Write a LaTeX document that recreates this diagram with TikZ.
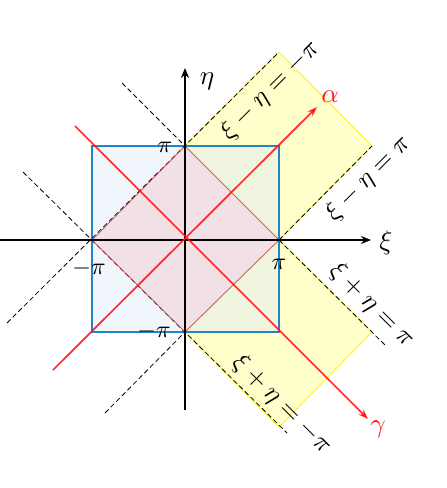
\documentclass[tikz,border=0pt]{standalone}
\usepackage{graphicx}
\usetikzlibrary{arrows.meta}
\definecolor{myblue}{RGB}{0,112,192}
\definecolor{sqfill}{RGB}{222,235,247}
\definecolor{pinkfill}{RGB}{242,223,228}
\definecolor{yfill}{RGB}{255,255,204}
\definecolor{yline}{RGB}{255,240,40}
\definecolor{myred}{RGB}{255,20,20}
\newcommand{\SBig}[1]{\scalebox{2.7}{$#1$}}
\newcommand{\SEq}[1]{\scalebox{2.6}{$#1$}}
\newcommand{\STick}[1]{\scalebox{2.4}{$#1$}}
\begin{document}
\begin{tikzpicture}[x=1pt,y=-1pt,
  axis/.style={line width=1.3pt,-{Stealth[length=10pt,width=8pt]}},
  dsh/.style={line width=0.8pt,dash pattern=on 5pt off 3pt},
  redarr/.style={draw=myred,draw opacity=0.9,line width=1.7pt,-{Stealth[length=10pt,width=7pt]}},
  ybox/.style={fill=yfill,draw=yline,line width=0.9pt},
  lbl/.style={inner sep=0pt},
  tick/.style={inner sep=0pt},
  eqlbl/.style={inner sep=0pt}]
\useasboundingbox (0,0) rectangle (447,488);
% key points
\coordinate (A) at (92,240);
\coordinate (B) at (185,146);
\coordinate (C) at (279,240);
\coordinate (D) at (185,332);
\coordinate (UT) at (279,52);
\coordinate (UR) at (372,146);
\coordinate (LR) at (372,332);
\coordinate (LB) at (279,427);
\coordinate (SQ1) at (92,146);
\coordinate (SQ2) at (279,332);
% yellow strips
\path[ybox] (B) -- (UT) -- (UR) -- (C) -- cycle;
\path[ybox] (D) -- (C) -- (LR) -- (LB) -- cycle;
% square
\path[fill=sqfill,fill opacity=0.45,draw=myblue,draw opacity=0.85,line width=1.8pt] (SQ1) rectangle (SQ2);
% dashed lines
\coordinate (d1a) at (7,323);
\coordinate (d2a) at (105,413);
\coordinate (d3a) at (122,83);
\coordinate (d3b) at (385,345);
\coordinate (d4a) at (23,172);
\coordinate (d4b) at (287,433);
\draw[dsh] (d1a) -- (UT);
\draw[dsh] (d2a) -- (D);
\draw[dsh] (C) -- (UR);
\draw[dsh] (d3a) -- (B);
\draw[dsh] (C) -- (d3b);
\draw[dsh] (d4a) -- (d4b);
% pink diamond
\path[fill=pinkfill,fill opacity=0.88,draw=red!70!black,draw opacity=0.55,line width=0.9pt] (A) -- (B) -- (C) -- (D) -- cycle;
% axes
\coordinate (O) at (185,240);
\coordinate (xs) at (0,240);
\coordinate (xe) at (371,240);
\coordinate (ys) at (185,410);
\coordinate (ye) at (185,68);
\draw[axis] (xs) -- (xe);
\draw[axis] (ys) -- (ye);
% red lines
\coordinate (as) at (53,370);
\coordinate (ae) at (317,107);
\coordinate (gs) at (75,126);
\coordinate (ge) at (368,419);
\draw[redarr] (as) -- (ae);
\draw[redarr] (gs) -- (ge);
% labels
\node[lbl] (eta) at (207,81) {\SBig{\eta}};
\node[lbl] (xi) at (386,243) {\SBig{\xi}};
\node[lbl,text=myred] (alpha) at (330,97) {\SBig{\alpha}};
\node[lbl,text=myred] (gamma) at (378,429) {\SBig{\gamma}};
\node[tick] (tB) at (165,147) {\STick{\pi}};
\node[tick] (tA) at (89,268) {\STick{-\pi}};
\node[tick] (tC) at (279,264) {\STick{\pi}};
\node[tick] (tD) at (154,331) {\STick{-\pi}};
\node[eqlbl,rotate=45] (e1) at (270,90) {\SEq{\xi-\eta=-\pi}};
\node[eqlbl,rotate=45] (e2) at (368,178) {\SEq{\xi-\eta=\pi}};
\node[eqlbl,rotate=-45] (e3) at (372,305) {\SEq{\xi+\eta=\pi}};
\node[eqlbl,rotate=-45] (e4) at (282,404) {\SEq{\xi+\eta=-\pi}};
\end{tikzpicture}
\end{document}
